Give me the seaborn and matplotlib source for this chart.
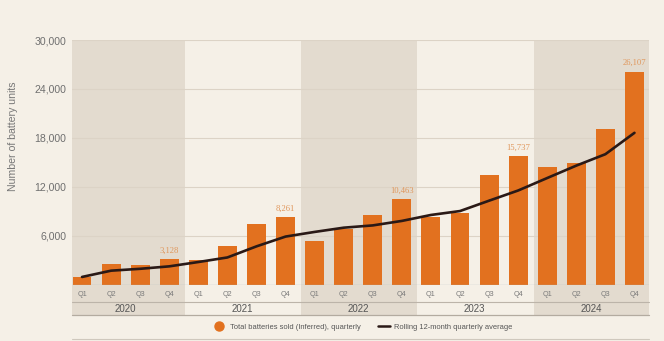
import numpy as np
import pandas as pd
import matplotlib
matplotlib.use("Agg")
import matplotlib.pyplot as plt
import matplotlib.transforms as mtransforms
from matplotlib.patches import Rectangle
from matplotlib.lines import Line2D
import seaborn as sns

# ---- data ----
years = ["2020", "2021", "2022", "2023", "2024"]
quarters = ["Q1", "Q2", "Q3", "Q4"]
batteries_sold = [950, 2500, 2400, 3128,
                  3050, 4800, 7500, 8261,
                  5350, 6850, 8600, 10463,
                  8250, 8790, 13400, 15737,
                  14370, 14940, 19080, 26107]
rolling_avg = [950, 1720, 1950, 2250,
               2780, 3340, 4700, 5900,
               6470, 6990, 7270, 7820,
               8550, 9030, 10300, 11550,
               13080, 14600, 16000, 18620]
labelled_periods = ["2020 Q4", "2021 Q4", "2022 Q4", "2023 Q4", "2024 Q4"]
y_ticks = [6000, 12000, 18000, 24000, 30000]
bar_legend = "Total batteries sold (Inferred), quarterly"
line_legend = "Rolling 12-month quarterly average"
y_title = "Number of battery units"

periods = [f"{y} {q}" for y in years for q in quarters]
df = pd.DataFrame({"period": periods, "sold": batteries_sold, "avg": rolling_avg,
                   "pos": np.arange(len(periods))})

# ---- style ----
BG = "#f5f0e7"
BAND_DARK = "#e3dbcf"
BAND_LIGHT = "#f5f0e7"
ORANGE = "#e2711f"
LINE = "#2a1916"
GRID = "#dcd3c6"
TXT = "#6f6f6f"
FONT = ["Liberation Sans", "DejaVu Sans"]
SERIF = ["Liberation Serif", "DejaVu Serif"]

sns.set_theme(style="white")
plt.rcParams["font.family"] = FONT

W, H = 664, 341
fig = plt.figure(figsize=(W / 100, H / 100), dpi=100)
fig.patch.set_facecolor(BG)

x0, x1 = 71.7, 649.3
ytop, ybot = 40.0, 284.7
ax = fig.add_axes([x0 / W, 1 - ybot / H, (x1 - x0) / W, (ybot - ytop) / H])
ax.set_facecolor("none")

n = len(periods)
ax.set_xlim(-0.355, n - 1 + 0.51)
ax.set_ylim(0, 30000)

# year bands (extend below axes through category rows)
trans = mtransforms.blended_transform_factory(ax.transData, ax.transAxes)
band_bottom = (ybot - 315) / (ybot - ytop)
for i, yr in enumerate(years):
    left = max(i * 4 - 0.47, -0.355)
    right = min(i * 4 + 3.53, n - 1 + 0.51)
    col = BAND_DARK if i % 2 == 0 else BAND_LIGHT
    ax.add_patch(Rectangle((left, band_bottom), right - left, 1 - band_bottom,
                           transform=trans, facecolor=col, edgecolor="none",
                           zorder=0, clip_on=False))

# grid lines
for t in y_ticks:
    ax.axhline(t, color=GRID, lw=0.8, zorder=1)
ax.axhline(0, color="#aab4bd", lw=0.9, zorder=4)

# bars
sns.barplot(data=df, x="period", y="sold", color=ORANGE, width=0.65,
            saturation=1, ax=ax, zorder=2, edgecolor="none")
ax.set_xlim(-0.355, n - 1 + 0.51)
# line
sns.lineplot(data=df, x="pos", y="avg", color=LINE, lw=1.9, ax=ax, zorder=3,
             legend=False)

# value labels
for p in labelled_periods:
    r = df[df["period"] == p].iloc[0]
    ax.annotate(f"{r['sold']:,}", (r["pos"], r["sold"]), xytext=(0, 3.5),
                textcoords="offset points", ha="center", va="bottom",
                fontsize=6.2, color="#e0975c", family=SERIF)

# axes styling
for s in ax.spines.values():
    s.set_visible(False)
ax.set_yticks(y_ticks)
ax.set_yticklabels([f"{t:,}" for t in y_ticks], fontsize=7.6, color=TXT)
ax.tick_params(axis="y", length=0, pad=4)
ax.set_xticks([])
ax.set_xlabel("")
ax.set_ylabel("")

# quarter and year labels
def ay(py):
    return (ybot - py) / (ybot - ytop)

for i, p in enumerate(periods):
    ax.text(i, ay(294.5), quarters[i % 4], transform=trans, ha="center",
            va="center", fontsize=5.2, color="#7a7a7a")
for i, yr in enumerate(years):
    ax.text(i * 4 + 1.5, ay(309.5), yr, transform=trans, ha="center",
            va="center", fontsize=7, color="#555555")

axt = ax.transAxes
for py, col, lw in [(301.7, "#bcb4a9", 0.8), (315.0, "#b3aba0", 0.9),
                    (339.0, "#cfc8bd", 0.8)]:
    ax.add_line(Line2D([0, 1], [ay(py), ay(py)], transform=axt, color=col,
                       lw=lw, clip_on=False, zorder=5))

# y title
fig.text(13.5 / W, 1 - 136 / H, y_title, rotation=90, ha="center", va="center",
         fontsize=7.6, color="#777777")

# legend
handles = [Line2D([], [], marker="o", color="none", markerfacecolor=ORANGE,
                  markeredgecolor=ORANGE, markersize=6.5, label=bar_legend),
           Line2D([], [], color=LINE, lw=1.8, label=line_legend)]
fig.legend(handles=handles, loc="center", bbox_to_anchor=(363 / W, 1 - 327 / H),
           ncol=2, frameon=False, fontsize=5.4, handlelength=1.6,
           handletextpad=0.6, columnspacing=2.3, labelcolor="#555555")

fig.savefig("out.png", dpi=100, facecolor=BG)
